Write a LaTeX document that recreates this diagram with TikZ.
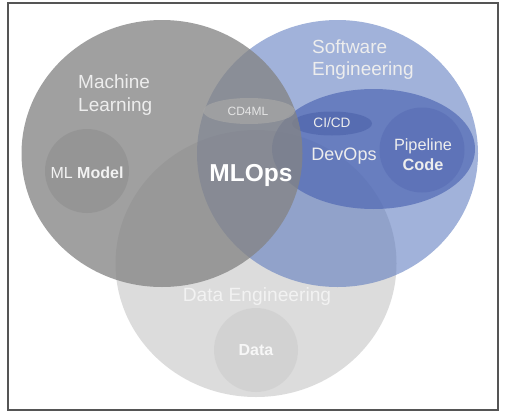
\documentclass[tikz,border=0pt]{standalone}
\usepackage{fontspec}
\setmainfont{Liberation Sans}
\usetikzlibrary{shapes.geometric}
\definecolor{degray}{RGB}{220,220,220}
\definecolor{seblue}{RGB}{84,115,188}
\definecolor{devblue}{RGB}{80,104,180}
\definecolor{cicdblue}{RGB}{70,92,165}
\definecolor{pipeblue}{RGB}{80,100,175}
\definecolor{mlgray}{RGB}{132,132,132}
\definecolor{cdgray}{RGB}{165,165,165}
\definecolor{modelgray}{RGB}{130,130,130}
\definecolor{datagray}{RGB}{190,190,190}
\definecolor{framegray}{RGB}{85,85,85}
\tikzset{
  area/.style={ellipse, draw=none, inner sep=0pt, minimum width=281pt, minimum height=267pt},
  lbl/.style={inner sep=0pt, text=white},
  fnt/.style={font=\fontsize{#1}{#1*1.2}\selectfont}
}
\begin{document}
\begin{tikzpicture}[x=1pt,y=-1pt]
\useasboundingbox (0,0) rectangle (508,415);
\fill[white] (0,0) rectangle (508,415);
% Data Engineering
\node[area, fill=degray] (de) at (256,263.5) {};
% Software Engineering
\node[area, fill=seblue, fill opacity=0.55] (se) at (337.5,153.5) {};
% DevOps
\node[ellipse, inner sep=0pt, minimum width=203pt, minimum height=120pt, fill=devblue, fill opacity=0.7] (devops) at (373.5,149) {};
\node[ellipse, inner sep=0pt, minimum width=80pt, minimum height=24pt, fill=cicdblue, fill opacity=0.5] (cicd) at (332,123.5) {};
\node[circle, inner sep=0pt, minimum size=85pt, fill=pipeblue, fill opacity=0.4] (pipe) at (422,150) {};
% Machine Learning
\node[area, fill=mlgray, fill opacity=0.77] (ml) at (162,153.5) {};
% CD4ML
\node[ellipse, inner sep=0pt, minimum width=92pt, minimum height=26pt, fill=cdgray, fill opacity=0.75] (cd4ml) at (249,111) {};
% ML Model and Data circles
\node[circle, inner sep=0pt, minimum size=84pt, fill=modelgray, fill opacity=0.35] (model) at (87,171) {};
\node[circle, inner sep=0pt, minimum size=84pt, fill=datagray, fill opacity=0.3] (data) at (256,350) {};
% frame
\node[draw=framegray, line width=1.2pt, inner sep=0pt, minimum width=490pt, minimum height=407pt] (frame) at (253,206.5) {};
% labels
\node[lbl, anchor=west, align=left, text=white!93!black, font=\fontsize{19}{23}\selectfont] (tml) at (78,95) {Machine\\Learning};
\node[lbl, anchor=west, align=left, text=white!93!black, font=\fontsize{19}{22}\selectfont] (tse) at (312,60) {Software\\Engineering};
\node[lbl, text=white!95!black, font=\fontsize{16}{19}\selectfont] (tmodel) at (87,173) {ML \textbf{Model}};
\node[lbl, font=\fontsize{24.5}{29}\selectfont\bfseries] (tmlops) at (251,175) {MLOps};
\node[lbl, text=white!90!black, font=\fontsize{12}{14}\selectfont] (tcd) at (248,111) {CD4ML};
\node[lbl, text=white!93!black, font=\fontsize{13.6}{16}\selectfont] (tcicd) at (332,123) {CI/CD};
\node[lbl, text=white!93!black, font=\fontsize{18}{22}\selectfont] (tdev) at (344,156) {DevOps};
\node[lbl, align=center, text=white!93!black, font=\fontsize{16.3}{20}\selectfont] (tpipe) at (423,155) {Pipeline\\\textbf{Code}};
\node[lbl, text=white!95!black, font=\fontsize{19.2}{23}\selectfont] (tde) at (257,297) {Data Engineering};
\node[lbl, text=white!97!black, font=\fontsize{16}{19}\selectfont\bfseries] (tdata) at (256,350) {Data};
\end{tikzpicture}
\end{document}
